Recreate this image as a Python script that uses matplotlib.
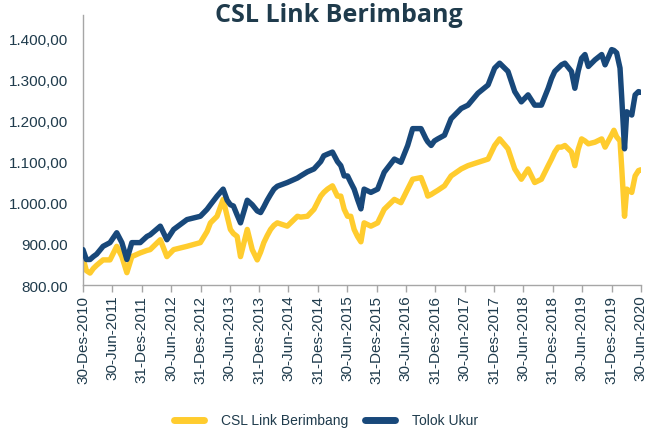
import matplotlib
matplotlib.use("Agg")
import matplotlib.pyplot as plt
import pandas as pd
from matplotlib.lines import Line2D

dates = [
    "2010-12-30", "2011-01-20", "2011-02-12", "2011-03-04", "2011-03-25", "2011-05-04",
    "2011-06-16", "2011-07-28", "2011-08-29", "2011-09-29", "2011-10-30", "2011-12-21",
    "2012-02-01", "2012-02-21", "2012-04-24", "2012-06-04", "2012-07-16", "2012-10-07",
    "2012-12-29", "2013-02-09", "2013-03-02", "2013-04-12", "2013-05-20", "2013-06-14",
    "2013-07-04", "2013-07-23", "2013-08-15", "2013-09-05", "2013-10-17", "2013-11-17",
    "2013-12-18", "2014-01-08", "2014-01-28", "2014-02-18", "2014-03-11", "2014-04-01",
    "2014-04-22", "2014-06-23", "2014-08-25", "2014-09-14", "2014-10-26", "2014-12-06",
    "2015-01-17", "2015-02-05", "2015-02-28", "2015-03-31", "2015-05-01", "2015-05-22",
    "2015-06-12", "2015-07-03", "2015-07-23", "2015-08-13", "2015-09-03", "2015-09-24",
    "2015-10-14", "2015-11-25", "2016-01-06", "2016-02-16", "2016-04-19", "2016-05-30",
    "2016-07-11", "2016-08-11", "2016-10-02", "2016-11-02", "2016-11-13", "2016-12-04",
    "2016-12-24", "2017-01-14", "2017-02-25", "2017-04-07", "2017-06-09", "2017-07-21",
    "2017-09-21", "2017-11-23", "2018-01-03", "2018-02-03", "2018-03-27", "2018-05-08",
    "2018-06-18", "2018-07-30", "2018-09-09", "2018-10-21", "2018-12-02", "2018-12-23",
    "2019-01-12", "2019-02-02", "2019-02-23", "2019-03-16", "2019-04-26", "2019-05-17",
    "2019-06-07", "2019-06-28", "2019-07-19", "2019-08-09", "2019-09-19", "2019-10-31",
    "2019-11-21", "2020-01-01", "2020-01-15", "2020-02-01", "2020-02-22", "2020-03-04",
    "2020-03-21", "2020-04-04", "2020-05-05", "2020-05-26", "2020-06-16", "2020-06-30",
]

csl_link_berimbang = [
    865, 835, 829, 840, 848, 861,
    861, 894, 869, 830, 869, 878,
    884, 886, 910, 869, 886, 894,
    903, 930, 951, 967, 1008, 967,
    935, 925, 918, 869, 935, 886,
    861, 880, 903, 920, 935, 945,
    951, 943, 967, 965, 967, 984,
    1016, 1025, 1033, 1041, 1016, 1016,
    984, 967, 967, 935, 918, 905,
    951, 943, 951, 984, 1008, 1000,
    1033, 1057, 1061, 1030, 1016, 1020,
    1025, 1030, 1041, 1065, 1082, 1090,
    1098, 1106, 1139, 1155, 1131, 1082,
    1057, 1082, 1049, 1057, 1090, 1106,
    1123, 1135, 1135, 1139, 1123, 1090,
    1130, 1155, 1150, 1143, 1147, 1155,
    1135, 1165, 1176, 1160, 1150, 1082,
    967, 1033, 1025, 1065, 1078, 1080,
]

tolok_ukur = [
    886, 862, 862, 869, 875, 894,
    903, 927, 903, 862, 903, 903,
    918, 922, 943, 910, 935, 959,
    967, 984, 995, 1016, 1033, 1006,
    995, 992, 970, 951, 1006, 995,
    980, 976, 990, 1006, 1020, 1033,
    1040, 1049, 1060, 1065, 1075, 1082,
    1100, 1114, 1118, 1123, 1100, 1090,
    1065, 1065, 1049, 1033, 1008, 985,
    1033, 1025, 1033, 1074, 1106, 1098,
    1139, 1180, 1180, 1155, 1148, 1139,
    1150, 1155, 1164, 1204, 1229, 1237,
    1266, 1286, 1327, 1339, 1319, 1270,
    1245, 1262, 1237, 1237, 1278, 1302,
    1319, 1327, 1335, 1339, 1319, 1278,
    1320, 1351, 1360, 1331, 1347, 1360,
    1335, 1372, 1370, 1364, 1327, 1253,
    1131, 1221, 1213, 1262, 1270, 1268,
]

tick_dates = [
    "2010-12-30", "2011-06-30", "2011-12-31", "2012-06-30", "2012-12-31",
    "2013-06-30", "2013-12-31", "2014-06-30", "2014-12-31", "2015-06-30",
    "2015-12-31", "2016-06-30", "2016-12-31", "2017-06-30", "2017-12-31",
    "2018-06-30", "2018-12-31", "2019-06-30", "2019-12-31", "2020-06-30",
]
tick_labels = [
    "30-Des-2010", "30-Jun-2011", "31-Des-2011", "30-Jun-2012", "31-Des-2012",
    "30-Jun-2013", "31-Des-2013", "30-Jun-2014", "31-Des-2014", "30-Jun-2015",
    "31-Des-2015", "30-Jun-2016", "31-Des-2016", "30-Jun-2017", "31-Des-2017",
    "30-Jun-2018", "31-Des-2018", "30-Jun-2019", "31-Des-2019", "30-Jun-2020",
]
y_ticks = [800, 900, 1000, 1100, 1200, 1300, 1400]
y_labels = ["800.00", "900.00", "1.000.00", "1.100,00", "1.200,00", "1.300,00", "1.400,00"]

series_names = ["CSL Link Berimbang", "Tolok Ukur"]
YELLOW = "#FFCC2E"
BLUE = "#18487A"
TEXT = "#1F3B4C"
SPINE = "#A6A6A6"

plt.rcParams["font.family"] = ["Liberation Sans", "DejaVu Sans"]

x = pd.to_datetime(dates)
fig = plt.figure(figsize=(6.56, 4.39), dpi=100)
ax = fig.add_axes([0.1265, 0.3485, 0.851, 0.615])

ax.plot(x, csl_link_berimbang, color=YELLOW, lw=3.9, solid_joinstyle="round", solid_capstyle="round", zorder=2)
ax.plot(x, tolok_ukur, color=BLUE, lw=3.9, solid_joinstyle="round", solid_capstyle="round", zorder=3)

ax.set_xlim(pd.Timestamp("2010-12-30"), pd.Timestamp("2020-07-03"))
ax.set_ylim(800, 1456)

ax.set_xticks(pd.to_datetime(tick_dates))
ax.set_xticklabels(tick_labels, rotation=90, fontsize=11, color=TEXT)
ax.set_yticks(y_ticks)
ax.set_yticklabels(y_labels, fontsize=11, color=TEXT)

ax.tick_params(axis="x", length=5, width=1, color=SPINE, pad=2)
ax.tick_params(axis="y", length=0, pad=11)

for s in ["top", "right"]:
    ax.spines[s].set_visible(False)
for s in ["left", "bottom"]:
    ax.spines[s].set_color(SPINE)
    ax.spines[s].set_linewidth(1)

fig.text(0.517, 0.965, "CSL Link Berimbang", ha="center", va="center",
         fontsize=18, fontweight="bold", color=TEXT, family=["Open Sans", "DejaVu Sans"])

handles = [
    Line2D([0], [0], color=YELLOW, lw=5, solid_capstyle="round"),
    Line2D([0], [0], color=BLUE, lw=5, solid_capstyle="round"),
]
fig.legend(handles, series_names, loc="center", bbox_to_anchor=(0.497, 0.04), ncol=2,
           frameon=False, fontsize=10, handlelength=2.2, handletextpad=1.2,
           columnspacing=1.2, labelcolor=TEXT)

fig.savefig("out.png", dpi=100)
